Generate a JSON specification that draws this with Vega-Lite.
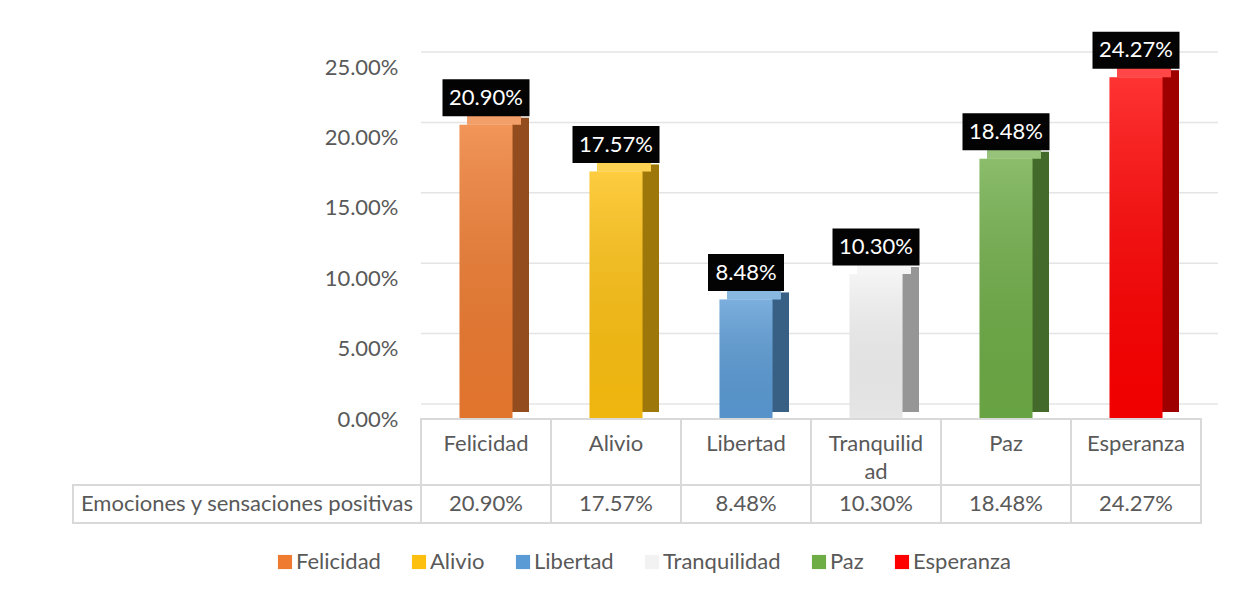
{
  "$schema": "https://vega.github.io/schema/vega-lite/v6.json",
  "background": "white",
  "padding": {"left": 72, "top": 31, "right": 10, "bottom": 10},
  "datasets": {
    "d": [
      {"cat": "Felicidad", "pct": 0.2090},
      {"cat": "Alivio", "pct": 0.1757},
      {"cat": "Libertad", "pct": 0.0848},
      {"cat": "Tranquilidad", "pct": 0.1030},
      {"cat": "Paz", "pct": 0.1848},
      {"cat": "Esperanza", "pct": 0.2427}
    ]
  },
  "columns": 2,
  "spacing": 0,
  "bounds": "flush",
  "concat": [
    {
      "width": 348, "height": 352,
      "data": {"values": []},
      "mark": "point"
    },
    {
      "width": 780, "height": 352,
      "data": {"name": "d"},
      "layer": [
        {
          "data": {"values": [{"t": 0}, {"t": 0.05}, {"t": 0.1}, {"t": 0.15}, {"t": 0.2}, {"t": 0.25}]},
          "mark": {"type": "rule", "color": "#E4E4E4", "strokeWidth": 1.5, "xOffset": 17, "yOffset": -15},
          "encoding": {
            "y": {
              "field": "t", "type": "quantitative",
              "scale": {"domain": [0, 0.25], "nice": false},
              "axis": {
                "values": [0, 0.05, 0.1, 0.15, 0.2, 0.25],
                "format": ".2%",
                "title": null,
                "grid": false, "ticks": false, "domain": false,
                "labelPadding": 23,
                "labelFont": "Lato", "labelFontSize": 22, "labelColor": "#595959"
              }
            }
          }
        },
        {
          "mark": {"type": "bar", "width": 17, "xOffset": 34.5, "yOffset": -7, "opacity": 1},
          "encoding": {
            "x": {"field": "cat", "type": "nominal", "sort": null, "scale": {"paddingInner": 0, "paddingOuter": 0}, "axis": null},
            "y": {"field": "pct", "type": "quantitative"},
            "color": {"field": "cat", "type": "nominal", "sort": null}
          }
        },
        {
          "mark": {"type": "bar", "width": 17, "xOffset": 34.5, "yOffset": -7, "color": "black", "opacity": 0.38},
          "encoding": {
            "x": {"field": "cat", "type": "nominal", "sort": null},
            "y": {"field": "pct", "type": "quantitative"}
          }
        },
        {
          "mark": {"type": "tick", "thickness": 13, "xOffset": 8, "yOffset": -6.5, "opacity": 1},
          "encoding": {
            "x": {"field": "cat", "type": "nominal", "sort": null},
            "y": {"field": "pct", "type": "quantitative"},
            "size": {"value": 54},
            "color": {"field": "cat", "type": "nominal", "sort": null}
          }
        },
        {
          "mark": {"type": "tick", "thickness": 13, "xOffset": 8, "yOffset": -6.5, "color": "white", "opacity": 0.28},
          "encoding": {
            "x": {"field": "cat", "type": "nominal", "sort": null},
            "y": {"field": "pct", "type": "quantitative"},
            "size": {"value": 54}
          }
        },
        {
          "mark": {"type": "bar", "width": 53, "opacity": 1},
          "encoding": {
            "x": {"field": "cat", "type": "nominal", "sort": null},
            "y": {"field": "pct", "type": "quantitative"},
            "color": {
              "field": "cat", "type": "nominal", "sort": null,
              "scale": {
                "domain": ["Felicidad", "Alivio", "Libertad", "Tranquilidad", "Paz", "Esperanza"],
                "range": ["#EE7B30", "#FDC010", "#5B9BD5", "#F2F2F2", "#6EAC46", "#FF0000"]
              },
              "legend": {
                "orient": "none", "legendX": 201, "legendY": 484,
                "direction": "horizontal", "title": null,
                "symbolType": "square", "symbolSize": 200, "symbolStrokeWidth": 0, "symbolOpacity": 1,
                "labelFont": "Lato", "labelFontSize": 22, "labelColor": "#595959",
                "labelOffset": 0, "columnPadding": 27, "padding": 0
              }
            }
          }
        },
        {
          "mark": {
            "type": "bar", "width": 53, "opacity": 1,
            "color": {
              "gradient": "linear", "x1": 0, "y1": 0, "x2": 0, "y2": 1,
              "stops": [
                {"offset": 0, "color": "rgba(255,255,255,0.2)"},
                {"offset": 1, "color": "rgba(0,0,0,0.05)"}
              ]
            }
          },
          "encoding": {
            "x": {"field": "cat", "type": "nominal", "sort": null},
            "y": {"field": "pct", "type": "quantitative"}
          }
        },
        {
          "mark": {"type": "tick", "thickness": 37, "yOffset": -27, "color": "#030303", "opacity": 1},
          "encoding": {
            "x": {"field": "cat", "type": "nominal", "sort": null},
            "y": {"field": "pct", "type": "quantitative"},
            "size": {"condition": {"test": "datum.pct < 0.1", "value": 76}, "value": 87}
          }
        },
        {
          "mark": {"type": "text", "dy": -27, "color": "white", "font": "Lato", "fontSize": 22},
          "encoding": {
            "x": {"field": "cat", "type": "nominal", "sort": null},
            "y": {"field": "pct", "type": "quantitative"},
            "text": {"field": "pct", "type": "quantitative", "format": ".2%"}
          }
        }
      ]
    },
    {
      "width": 348, "height": 66,
      "data": {"values": []},
      "mark": "point"
    },
    {
      "width": 780, "height": 66,
      "data": {"name": "d"},
      "transform": [
        {"calculate": "datum.cat === 'Tranquilidad' ? ['Tranquilid', 'ad'] : datum.cat", "as": "lbl"}
      ],
      "encoding": {
        "x": {"field": "cat", "type": "nominal", "sort": null, "scale": {"paddingInner": 0, "paddingOuter": 0}, "axis": null}
      },
      "layer": [
        {"mark": {"type": "rect", "fill": "white", "stroke": "#D9D9D9", "strokeWidth": 2}},
        {
          "mark": {"type": "text", "font": "Lato", "fontSize": 22, "color": "#595959", "baseline": "alphabetic", "dy": -1, "lineHeight": 28},
          "encoding": {"text": {"field": "lbl"}}
        }
      ]
    },
    {
      "width": 348, "height": 38,
      "data": {"values": [{"h": "Emociones y sensaciones positivas"}]},
      "layer": [
        {"mark": {"type": "rect", "fill": "white", "stroke": "#D9D9D9", "strokeWidth": 2}},
        {
          "mark": {"type": "text", "font": "Lato", "fontSize": 22, "color": "#595959"},
          "encoding": {"text": {"field": "h"}}
        }
      ]
    },
    {
      "width": 780, "height": 38,
      "data": {"name": "d"},
      "encoding": {
        "x": {"field": "cat", "type": "nominal", "sort": null, "scale": {"paddingInner": 0, "paddingOuter": 0}, "axis": null}
      },
      "layer": [
        {"mark": {"type": "rect", "fill": "white", "stroke": "#D9D9D9", "strokeWidth": 2}},
        {
          "mark": {"type": "text", "font": "Lato", "fontSize": 22, "color": "#595959"},
          "encoding": {"text": {"field": "pct", "type": "quantitative", "format": ".2%"}}
        }
      ]
    }
  ],
  "config": {
    "view": {"stroke": null},
    "font": "Lato"
  }
}
